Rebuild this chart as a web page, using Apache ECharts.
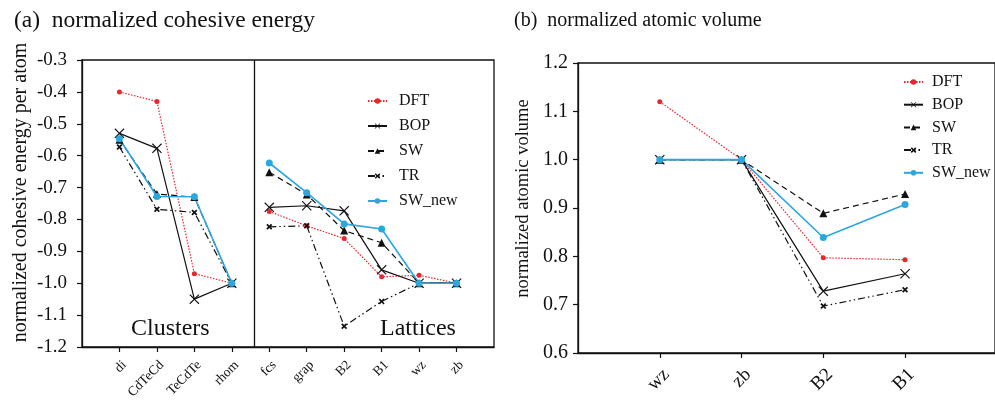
<!DOCTYPE html>
<html>
<head>
<meta charset="utf-8">
<script src="https://cdn.jsdelivr.net/npm/echarts@6/dist/echarts.min.js"></script>
<style>html,body{margin:0;padding:0;background:#fff}#c{width:995px;height:403px}</style>
</head>
<body>
<div id="c"></div>
<script>
// ---- data ----
const clusterCats = ['di', 'CdTeCd', 'TeCdTe', 'rhom'];
const latticeCats = ['fcs', 'grap', 'B2', 'B1', 'wz', 'zb'];
const volumeCats = ['wz', 'zb', 'B2', 'B1'];
const seriesNames = ['DFT', 'BOP', 'SW', 'TR', 'SW_new'];

const dftClusters   = [-0.40, -0.43, -0.97, -1.00];
const bopClusters   = [-0.53, -0.577, -1.05, -1.00];
const swClusters    = [-0.55, -0.72, -0.73, -1.00];
const trClusters    = [-0.573, -0.768, -0.778, -1.00];
const swNewClusters = [-0.547, -0.728, -0.729, -1.00];

const dftLattices   = [-0.775, -0.82, -0.86, -0.98, -0.975, -1.00];
const bopLattices   = [-0.762, -0.757, -0.773, -0.958, -1.00, -1.00];
const swLattices    = [-0.652, -0.722, -0.835, -0.873, -1.00, -1.00];
const trLattices    = [-0.823, -0.82, -1.135, -1.057, -1.00, -1.00];
const swNewLattices = [-0.623, -0.716, -0.814, -0.83, -1.00, -1.00];

const dftVolume   = [1.12, 1.00, 0.797, 0.793];
const bopVolume   = [1.00, 1.00, 0.728, 0.764];
const swVolume    = [1.00, 1.00, 0.889, 0.929];
const trVolume    = [1.00, 1.00, 0.697, 0.731];
const swNewVolume = [1.00, 1.00, 0.839, 0.907];

const energyTicks = [-1.2, -1.1, -1.0, -0.9, -0.8, -0.7, -0.6, -0.5, -0.4, -0.3];
const volumeTicks = [0.6, 0.7, 0.8, 0.9, 1.0, 1.1, 1.2];

// ---- styles ----
const FONT = '"Liberation Serif", "DejaVu Serif", serif';
const RED = '#e8262d', BLUE = '#2ba7df', BLACK = '#111';
const X_THIN = 'path://M0,0.8L0.8,0L5,4.2L9.2,0L10,0.8L5.8,5L10,9.2L9.2,10L5,5.8L0.8,10L0,9.2L4.2,5Z';
const X_BOLD = 'path://M0,2L2,0L5,3L8,0L10,2L7,5L10,8L8,10L5,7L2,10L0,8L3,5Z';
const styles = {
  DFT:    {color: RED,   line: {type: [1.5, 1.5], width: 1.2}, symbol: 'circle', size: 5},
  BOP:    {color: BLACK, line: {type: 'solid', width: 1.2}, symbol: X_THIN, size: 10},
  SW:     {color: BLACK, line: {type: [6, 4], width: 1.2}, symbol: 'triangle', size: 8},
  TR:     {color: BLACK, line: {type: [7, 3, 1.5, 3, 1.5, 3], width: 1.2}, symbol: X_BOLD, size: 6},
  SW_new: {color: BLUE,  line: {type: 'solid', width: 1.6}, symbol: 'circle', size: 7}
};

const allLeftCats = clusterCats.concat(latticeCats);
const leftData = {
  DFT: [dftClusters, dftLattices], BOP: [bopClusters, bopLattices], SW: [swClusters, swLattices],
  TR: [trClusters, trLattices], SW_new: [swNewClusters, swNewLattices]
};
const rightData = {DFT: dftVolume, BOP: bopVolume, SW: swVolume, TR: trVolume, SW_new: swNewVolume};

function mk(name, data, gi) {
  const s = styles[name];
  return {
    name, type: 'line', data, xAxisIndex: gi, yAxisIndex: gi,
    symbol: s.symbol, symbolSize: s.size, showSymbol: true,
    itemStyle: {color: s.color},
    lineStyle: {color: s.color, width: s.line.width, type: s.line.type},
    emphasis: {disabled: true}, animation: false
  };
}

const series = [];
seriesNames.forEach(n => {
  const [cl, la] = leftData[n];
  series.push(mk(n, cl.map((v, i) => [i + 1, v]), 0));
  series.push(mk(n, la.map((v, i) => [i + 1 + clusterCats.length, v]), 0));
});
seriesNames.forEach(n => {
  series.push(mk(n, rightData[n].map((v, i) => [i + 1, v]), 1));
});
// divider between clusters and lattices
series[0].markLine = {
  symbol: 'none', silent: true, label: {show: false}, animation: false,
  lineStyle: {color: BLACK, type: 'solid', width: 1.3},
  data: [{xAxis: 4.6}]
};

const axisLine = {show: true, onZero: false, lineStyle: {color: BLACK, width: 1.3}};
const axisTick = {show: true, length: 5, lineStyle: {color: BLACK, width: 1.2}};

const chart = echarts.init(document.getElementById('c'), null, {renderer: 'canvas'});
chart.setOption({
  animation: false,
  backgroundColor: '#fff',
  title: [
    {text: '(a)  normalized cohesive energy', left: 9, top: 4,
     textStyle: {fontFamily: FONT, fontSize: 23.5, fontWeight: 'normal', color: BLACK}},
    {text: '(b)  normalized atomic volume', left: 509, top: 6,
     textStyle: {fontFamily: FONT, fontSize: 20, fontWeight: 'normal', color: BLACK}}
  ],
  legend: [
    {data: seriesNames, orient: 'vertical', left: 362, top: 88, itemWidth: 19, itemHeight: 7, itemGap: 9,
     selectedMode: false, textStyle: {fontFamily: FONT, fontSize: 16, color: BLACK, padding: [0, 0, 0, 7]}},
    {data: seriesNames, orient: 'vertical', left: 898, top: 69, itemWidth: 19, itemHeight: 7, itemGap: 6.7,
     selectedMode: false, textStyle: {fontFamily: FONT, fontSize: 16, color: BLACK, padding: [0, 0, 0, 4]}}
  ],
  grid: [
    {left: 82, top: 60, width: 412, height: 287, show: true, borderColor: BLACK, borderWidth: 1.3, backgroundColor: 'transparent'},
    {left: 578, top: 63, width: 430, height: 290, show: true, borderColor: BLACK, borderWidth: 1.3, backgroundColor: 'transparent'}
  ],
  xAxis: [
    {type: 'value', gridIndex: 0, min: 0, max: 11, interval: 1, splitLine: {show: false},
     axisLine, axisTick: Object.assign({customValues: allLeftCats.map((c, i) => i + 1)}, axisTick),
     axisLabel: {customValues: allLeftCats.map((c, i) => i + 1), rotate: 45, margin: 11, verticalAlign: 'top',
       fontFamily: FONT, fontSize: 13.5, color: BLACK, formatter: v => allLeftCats[v - 1] || ''}},
    {type: 'value', gridIndex: 1, min: 0, max: 5.1, interval: 1, splitLine: {show: false},
     axisLine, axisTick: Object.assign({customValues: volumeCats.map((c, i) => i + 1)}, axisTick),
     axisLabel: {customValues: volumeCats.map((c, i) => i + 1), rotate: 45, margin: 12, verticalAlign: 'top',
       fontFamily: FONT, fontSize: 19, color: BLACK, formatter: v => volumeCats[v - 1] || ''}}
  ],
  yAxis: [
    {type: 'value', gridIndex: 0, min: energyTicks[0], max: energyTicks[energyTicks.length - 1], interval: 0.1,
     splitLine: {show: false}, axisLine, axisTick,
     axisLabel: {customValues: energyTicks, fontFamily: FONT, fontSize: 19, color: BLACK, margin: 15, formatter: v => v.toFixed(1)},
     name: 'normalized cohesive energy per atom', nameLocation: 'middle', nameGap: 51,
     nameTextStyle: {fontFamily: FONT, fontSize: 20, color: BLACK, padding: [0, 0, 0, 22]}},
    {type: 'value', gridIndex: 1, min: volumeTicks[0], max: volumeTicks[volumeTicks.length - 1], interval: 0.1,
     splitLine: {show: false}, axisLine, axisTick,
     axisLabel: {customValues: volumeTicks, fontFamily: FONT, fontSize: 20, color: BLACK, margin: 10, formatter: v => v.toFixed(1)},
     name: 'normalized atomic volume', nameLocation: 'middle', nameGap: 45,
     nameTextStyle: {fontFamily: FONT, fontSize: 18.5, color: BLACK, padding: [0, 0, 0, 19]}}
  ],
  graphic: [
    {type: 'text', left: 131, top: 317, style: {text: 'Clusters', font: '24px ' + FONT, fill: BLACK}},
    {type: 'text', left: 380, top: 317, style: {text: 'Lattices', font: '24px ' + FONT, fill: BLACK}}
  ],
  series
});
</script>
</body>
</html>
